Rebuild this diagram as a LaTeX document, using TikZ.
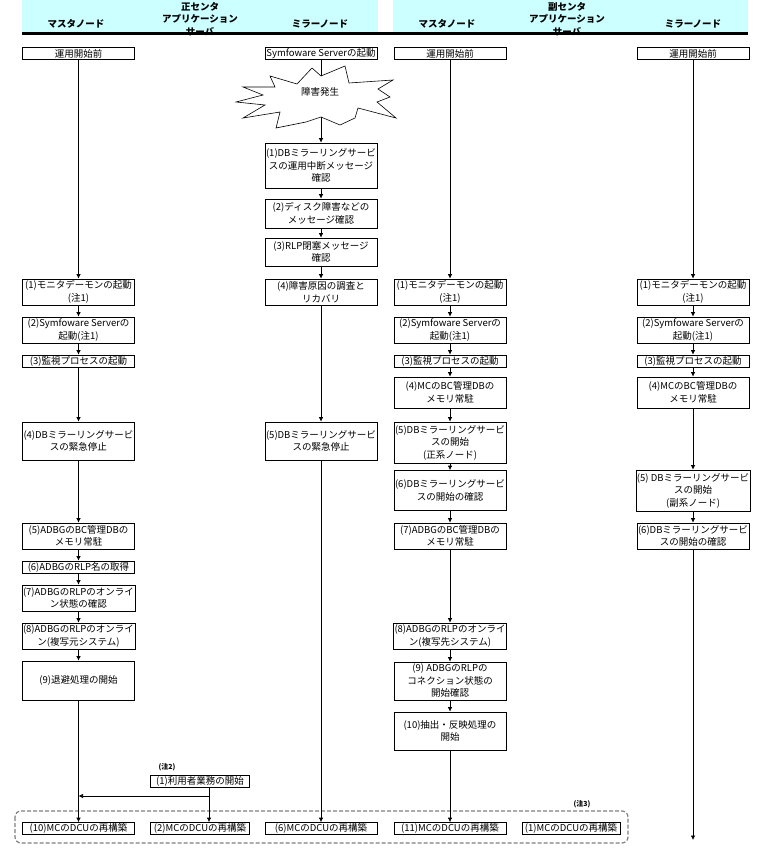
\documentclass[tikz,border=0pt]{standalone}
\usepackage{fontspec}
\newfontfamily\jpfont{Noto Sans CJK JP}
\usetikzlibrary{arrows.meta}
\definecolor{headcyan}{HTML}{CCFFFF}
\definecolor{framegray}{HTML}{808080}

\begin{document}
\begin{tikzpicture}[x=1pt,y=-1pt]
    \tikzset{box/.style = {draw, line width=0.7pt, align=center, minimum width=112, inner xsep=1pt, inner ysep=0pt, font=\jpfont\fontsize{9.5}{12.5}\selectfont}}
    \tikzset{appbox/.style = {box, minimum width=99}}
    \tikzset{head/.style = {font=\jpfont\bfseries\fontsize{9.5}{10}\selectfont, inner sep=0pt}}
    \tikzset{note/.style = {font=\jpfont\bfseries\fontsize{7}{8}\selectfont, inner sep=0pt}}
    \tikzset{arr/.style = {-{Latex[length=4.5pt,width=4.5pt]}, line width=0.7pt}}
    \tikzset{group/.style = {framegray, dash pattern=on 4pt off 2pt, line width=1.2pt, rounded corners=6pt}}

    \useasboundingbox (0,0) rectangle (764,856);

    % header
    \fill[headcyan] (22,0) rectangle (378,33);
    \fill[headcyan] (393,0) rectangle (748,33);
    \node[head] (mainctr) at (200,7) {正センタ};
    \node[head] (mainapp) at (200,19) {アプリケーション};
    \node[head] (mainsrv) at (200,31.5) {サーバ};
    \node[head] (mainmst) at (76,24) {マスタノード};
    \node[head] (mainmir) at (320,24) {ミラーノード};
    \node[head] (subctr) at (567,7) {副センタ};
    \node[head] (subapp) at (567,19) {アプリケーション};
    \node[head] (subsrv) at (567,31.5) {サーバ};
    \node[head] (submst) at (447,24) {マスタノード};
    \node[head] (submir) at (693,24) {ミラーノード};
    \draw[line width=3pt] (22,34) -- (748,34);

    % main center, master node
    \node[box, minimum height=12] (m0) at (78.5,53.5) {運用開始前};
    \node[box, minimum height=26] (m1) at (78.5,292) {(1)モニタデーモンの起動\\(注1)};
    \node[box, minimum height=26] (m2) at (78.5,330) {(2)Symfoware Serverの\\起動(注1)};
    \node[box, minimum height=12] (m3) at (78.5,361) {(3)監視プロセスの起動};
    \node[box, minimum height=38] (m4) at (78.5,441) {(4)DBミラーリングサービ\\スの緊急停止};
    \node[box, minimum height=26] (m5) at (78.5,536) {(5)ADBGのBC管理DBの\\メモリ常駐};
    \node[box, minimum height=12] (m6) at (78.5,567) {(6)ADBGのRLP名の取得};
    \node[box, minimum height=26] (m7) at (78.5,598) {(7)ADBGのRLPのオンライ\\ン状態の確認};
    \node[box, minimum height=26] (m8) at (78.5,636) {(8)ADBGのRLPのオンライ\\ン(複写元システム)};
    \node[box, minimum height=39] (m9) at (78.5,680.5) {(9)退避処理の開始};
    \node[box, minimum height=12] (m10) at (78.5,828.5) {(10)MCのDCUの再構築};

    % main center, mirror node
    \node[box, minimum height=12] (r0) at (321,53.5) {Symfoware Serverの起動};
    \draw[line width=0.6pt, fill=white] (270,76) -- (297,84) -- (312,68) -- (321,76) -- (345,66)
        -- (349,83) -- (393,80) -- (378,89) -- (390,97) -- (377,102) -- (396,118) -- (358,108)
        -- (355,118) -- (340,125) -- (321,117) -- (306,122) -- (276,128) -- (280,112) -- (243,118)
        -- (265,105) -- (236,102) -- (263,95) -- (243,87) -- (275,87) -- cycle;
    \coordinate (faultin) at (321,76);
    \coordinate (faultout) at (321,117);
    \node[font=\jpfont\fontsize{9.5}{10}\selectfont] (fault) at (320,92) {障害発生};
    \node[box, minimum height=45] (r1) at (321,165.5) {(1)DBミラーリングサービ\\スの運用中断メッセージ\\確認};
    \node[box, minimum height=29] (r2) at (321,213.5) {(2)ディスク障害などの\\メッセージ確認};
    \node[box, minimum height=28] (r3) at (321,252) {(3)RLP閉塞メッセージ\\確認};
    \node[box, minimum height=26] (r4) at (321,292) {(4)障害原因の調査と\\リカバリ};
    \node[box, minimum height=38] (r5) at (321,441) {(5)DBミラーリングサービ\\スの緊急停止};
    \node[box, minimum height=12] (r6) at (321,828.5) {(6)MCのDCUの再構築};

    % main center, application server
    \node[note] (note2) at (167,767) {(注2)};
    \node[appbox, minimum height=12] (a1) at (200,781) {(1)利用者業務の開始};
    \node[appbox, minimum height=12] (a2) at (200,828.5) {(2)MCのDCUの再構築};
    \coordinate (split) at (209,796);

    % sub center, master node
    \node[box, minimum height=12] (sm0) at (450,53.5) {運用開始前};
    \node[box, minimum height=26] (sm1) at (450,292) {(1)モニタデーモンの起動\\(注1)};
    \node[box, minimum height=26] (sm2) at (450,330) {(2)Symfoware Serverの\\起動(注1)};
    \node[box, minimum height=12] (sm3) at (450,361) {(3)監視プロセスの起動};
    \node[box, minimum height=31] (sm4) at (450,392.5) {(4)MCのBC管理DBの\\メモリ常駐};
    \node[box, minimum height=41] (sm5) at (450,442.5) {(5)DBミラーリングサービ\\スの開始\\(正系ノード)};
    \node[box, minimum height=40] (sm6) at (450,490.5) {(6)DBミラーリングサービ\\スの開始の確認};
    \node[box, minimum height=26] (sm7) at (450,536) {(7)ADBGのBC管理DBの\\メモリ常駐};
    \node[box, minimum height=26] (sm8) at (450,636) {(8)ADBGのRLPのオンライ\\ン(複写先システム)};
    \node[box, minimum height=38] (sm9) at (450,681) {(9) ADBGのRLPの\\コネクション状態の\\開始確認};
    \node[box, minimum height=38] (sm10) at (450,731) {(10)抽出・反映処理の\\開始};
    \node[box, minimum height=12] (sm11) at (450,828.5) {(11)MCのDCUの再構築};

    % sub center, application server
    \node[note] (note3) at (582,804) {(注3)};
    \node[box, minimum width=98, minimum height=12] (sa1) at (571,828.5) {(1)MCのDCUの再構築};

    % sub center, mirror node
    \node[box, minimum height=12] (sr0) at (693,53.5) {運用開始前};
    \node[box, minimum height=26] (sr1) at (693,292) {(1)モニタデーモンの起動\\(注1)};
    \node[box, minimum height=26] (sr2) at (693,330) {(2)Symfoware Serverの\\起動(注1)};
    \node[box, minimum height=12] (sr3) at (693,361) {(3)監視プロセスの起動};
    \node[box, minimum height=31] (sr4) at (693,392.5) {(4)MCのBC管理DBの\\メモリ常駐};
    \node[box, minimum height=41] (sr5) at (693,490.5) {(5) DBミラーリングサービ\\スの開始\\(副系ノード)};
    \node[box, minimum height=26] (sr6) at (693,536) {(6)DBミラーリングサービ\\スの開始の確認};
    \coordinate (srend) at (693,840);

    % rebuild group
    \draw[group] (15,811) rectangle (628,843);

    % flows
    \draw[arr] (m0) -- (m1);
    \draw[arr] (m1) -- (m2);
    \draw[arr] (m2) -- (m3);
    \draw[arr] (m3) -- (m4);
    \draw[arr] (m4) -- (m5);
    \draw[arr] (m5) -- (m6);
    \draw[arr] (m6) -- (m7);
    \draw[arr] (m7) -- (m8);
    \draw[arr] (m8) -- (m9);
    \draw[arr] (m9) -- (m10);

    \draw[line width=0.7pt] (r0) -- (faultin);
    \draw[arr] (faultout) -- (r1);
    \draw[arr] (r1) -- (r2);
    \draw[arr] (r2) -- (r3);
    \draw[arr] (r3) -- (r4);
    \draw[arr] (r4) -- (r5);
    \draw[arr] (r5) -- (r6);

    \draw[line width=0.7pt] (a1.south -| split) -- (split);
    \draw[arr] (split) -- (a2.north -| split);
    \draw[arr] (split) -- (split -| m9.south);

    \draw[arr] (sm0) -- (sm1);
    \draw[arr] (sm1) -- (sm2);
    \draw[arr] (sm2) -- (sm3);
    \draw[arr] (sm3) -- (sm4);
    \draw[arr] (sm4) -- (sm5);
    \draw[arr] (sm5) -- (sm6);
    \draw[arr] (sm6) -- (sm7);
    \draw[arr] (sm7) -- (sm8);
    \draw[arr] (sm8) -- (sm9);
    \draw[arr] (sm9) -- (sm10);
    \draw[arr] (sm10) -- (sm11);

    \draw[arr] (sr0) -- (sr1);
    \draw[arr] (sr1) -- (sr2);
    \draw[arr] (sr2) -- (sr3);
    \draw[arr] (sr3) -- (sr4);
    \draw[arr] (sr4) -- (sr5);
    \draw[arr] (sr5) -- (sr6);
    \draw[arr] (sr6) -- (srend);

\end{tikzpicture}
\end{document}
